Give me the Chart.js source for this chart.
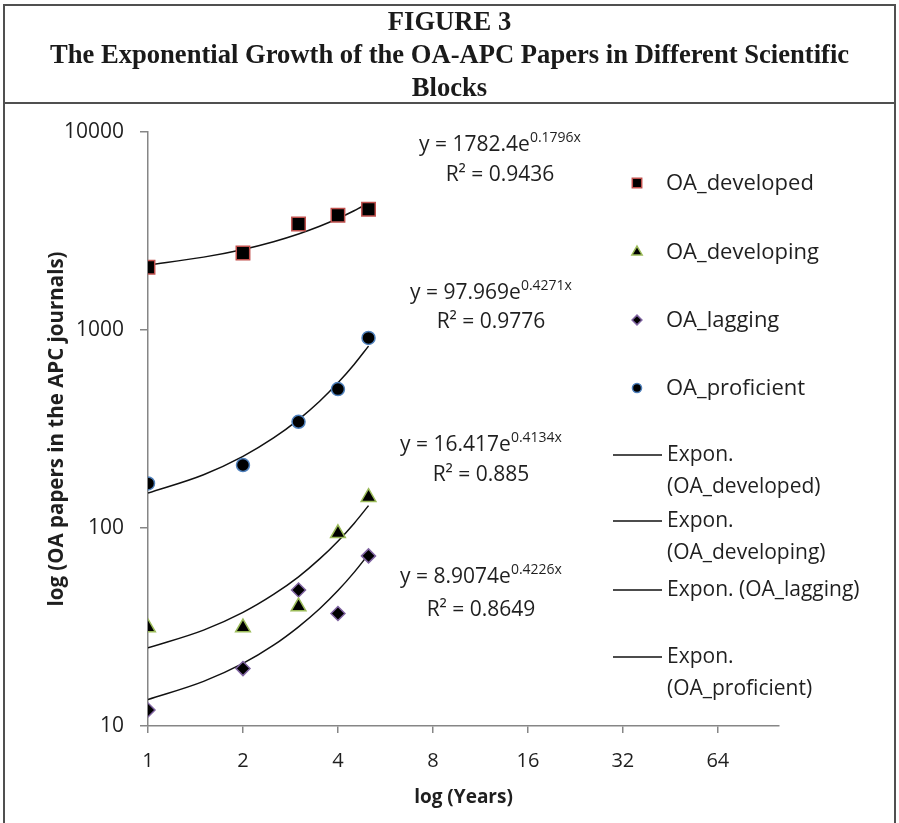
<!DOCTYPE html>
<html>
<head>
<meta charset="utf-8">
<script src="https://cdn.jsdelivr.net/npm/chart.js@4/dist/chart.umd.min.js"></script>
<style>
    html, body { margin: 0; padding: 0; background: #fff; }
    #page { position: relative; width: 899px; height: 823px; overflow: hidden; }
    #chart-wrap { position: absolute; left: 0; top: 0; width: 899px; height: 823px; }
    #frame { position: absolute; left: 3px; top: 4px; width: 893px; height: 840px; border: 2px solid #505050; box-sizing: border-box; pointer-events: none; }
    #title-rule { position: absolute; left: 3px; top: 102px; width: 893px; height: 0; border-top: 2px solid #505050; }
    .title-line { position: absolute; left: 0; width: 899px; text-align: center; font-family: "Liberation Serif", "Times New Roman", serif; font-weight: bold; font-size: 28px; line-height: 33px; color: #1a1a1a; transform: scaleX(0.95); white-space: nowrap; }
</style>
</head>
<body>
<div id="page">
    <div id="chart-wrap"><canvas id="growth-chart"></canvas></div>
    <div id="frame"></div>
    <div id="title-rule"></div>
    <div class="title-line" style="top:4px">FIGURE 3</div>
    <div class="title-line" style="top:37px">The Exponential Growth of the OA-APC Papers in Different Scientific</div>
    <div class="title-line" style="top:70px">Blocks</div>
</div>
<script>
// observed values (years 1..5)
const years = [1, 2, 3, 4, 5];
const developed = [2073, 2449, 3433, 3802, 4074];
const developing = [31.4, 31.4, 40.1, 94, 143];
const lagging = [12.05, 19.5, 48.6, 37, 72.3];
const proficient = [168, 208, 344, 503, 912];

// exponential trendlines
const trendYears = [1, 1.5, 2, 2.5, 3, 3.5, 4, 4.5, 5];
const developedTrend = [2133, 2334, 2553, 2793, 3055, 3342, 3656, 4000, 4375];
const developingTrend = [24.8, 30.5, 37.5, 46.2, 56.7, 69.8, 85.8, 105.5, 129.7];
const laggingTrend = [13.6, 16.8, 20.7, 25.6, 31.7, 39.1, 48.3, 59.7, 73.7];
const proficientTrend = [150.2, 185.9, 230.2, 285.0, 352.8, 436.8, 540.8, 669.6, 829.0];

// axis ticks
const xTicks = [1, 2, 4, 8, 16, 32, 64];
const yTicks = [10, 100, 1000, 10000];

const seriesNames = ['OA_developed', 'OA_developing', 'OA_lagging', 'OA_proficient'];
const trendNames = ['Expon. (OA_developed)', 'Expon. (OA_developing)', 'Expon. (OA_lagging)', 'Expon. (OA_proficient)'];
const equations = [
    ['y = 1782.4e', '0.1796x', 'R\u00B2 = 0.9436'],
    ['y = 97.969e', '0.4271x', 'R\u00B2 = 0.9776'],
    ['y = 16.417e', '0.4134x', 'R\u00B2 = 0.885'],
    ['y = 8.9074e', '0.4226x', 'R\u00B2 = 0.8649']
];

const FONT = '"Open Sans", "Liberation Sans", sans-serif';
const AXIS_GREY = '#868686';

const markerStyles = [
    { pointStyle: 'rect', radius: 9.5, border: '#c0504d' },
    { pointStyle: 'triangle', radius: 8.5, border: '#9bbb59' },
    { pointStyle: 'rectRot', radius: 7, border: '#8064a2' },
    { pointStyle: 'circle', radius: 6.5, border: '#4f81bd' }
];

function toPoints(xs, ys) {
    return xs.map((x, i) => ({ x: x, y: ys[i] }));
}

const pointSets = [developed, developing, lagging, proficient];
const trendSets = [developedTrend, developingTrend, laggingTrend, proficientTrend];

const datasets = [];
trendSets.forEach((set, i) => {
    datasets.push({
        label: trendNames[i],
        data: toPoints(trendYears, set),
        showLine: true,
        borderColor: '#111',
        borderWidth: 1.5,
        pointRadius: 0,
        cubicInterpolationMode: 'monotone',
        order: 2
    });
});
pointSets.forEach((set, i) => {
    const m = markerStyles[i];
    datasets.push({
        label: seriesNames[i],
        data: toPoints(years, set),
        showLine: false,
        pointStyle: m.pointStyle,
        pointRadius: m.radius,
        pointBackgroundColor: '#000',
        pointBorderColor: m.border,
        pointBorderWidth: 1.5,
        order: 0
    });
});

// legend + trendline equations drawn on top of the chart
const annotationPlugin = {
    id: 'annotations',
    afterDraw(chart) {
        const ctx = chart.ctx;
        ctx.save();
        ctx.fillStyle = '#1f1f1f';
        ctx.textBaseline = 'middle';

        // equations
        const eqPos = [[500, 145, 175], [491, 293, 322], [481, 445, 475], [481, 577, 610]];
        equations.forEach((eq, i) => {
            const [cx, y1, y2] = eqPos[i];
            ctx.font = '21px ' + FONT;
            const wBase = ctx.measureText(eq[0]).width;
            ctx.font = '14px ' + FONT;
            const wSup = ctx.measureText(eq[1]).width;
            const x0 = cx - (wBase + wSup) / 2;
            ctx.textAlign = 'left';
            ctx.font = '21px ' + FONT;
            ctx.fillText(eq[0], x0, y1);
            ctx.font = '14px ' + FONT;
            ctx.fillText(eq[1], x0 + wBase, y1 - 7);
            ctx.font = '21px ' + FONT;
            ctx.textAlign = 'center';
            ctx.fillText(eq[2], cx, y2);
        });

        // marker legend
        ctx.textAlign = 'left';
        ctx.font = '22px ' + FONT;
        const markerRows = [183, 252, 320, 388];
        markerRows.forEach((y, i) => {
            const m = markerStyles[i];
            ctx.fillStyle = '#000';
            ctx.strokeStyle = m.border;
            ctx.lineWidth = 1.5;
            Chart.helpers.drawPoint(ctx, { pointStyle: m.pointStyle, radius: m.radius * 0.7, borderWidth: 1.5, rotation: 0 }, 637, y);
            ctx.fillStyle = '#1f1f1f';
            ctx.fillText(seriesNames[i], 666, y + 1);
        });

        // trendline legend
        const trendRows = [
            [455, ['Expon.', '(OA_developed)']],
            [521, ['Expon.', '(OA_developing)']],
            [590, ['Expon. (OA_lagging)']],
            [657, ['Expon.', '(OA_proficient)']]
        ];
        ctx.font = '21px ' + FONT;
        trendRows.forEach(([y, lines]) => {
            ctx.strokeStyle = '#111';
            ctx.lineWidth = 1.5;
            ctx.beginPath();
            ctx.moveTo(613, y);
            ctx.lineTo(662, y);
            ctx.stroke();
            lines.forEach((t, k) => {
                ctx.fillText(t, 667, y + k * 32);
            });
        });
        ctx.restore();
    }
};

const chart = new Chart(document.getElementById('growth-chart'), {
    type: 'scatter',
    data: { datasets: datasets },
    plugins: [annotationPlugin],
    options: {
        responsive: true,
        maintainAspectRatio: false,
        animation: false,
        devicePixelRatio: 1,
        layout: { padding: { top: 132, right: 120, left: 0, bottom: 0 } },
        plugins: {
            legend: { display: false },
            tooltip: { enabled: false }
        },
        scales: {
            x: {
                type: 'logarithmic',
                min: 1,
                max: 100,
                afterBuildTicks: (axis) => { axis.ticks = xTicks.map(v => ({ value: v })); },
                afterFit: (axis) => { axis.height = 97; },
                ticks: {
                    autoSkip: false,
                    maxRotation: 0,
                    padding: 16,
                    color: '#1f1f1f',
                    font: { family: FONT, size: 20 },
                    callback: (v) => String(v)
                },
                grid: { drawOnChartArea: false, drawTicks: true, tickLength: 7, color: AXIS_GREY, lineWidth: 1.5 },
                border: { display: true, color: AXIS_GREY, width: 1.5 },
                title: {
                    display: true,
                    text: 'log (Years)',
                    color: '#1f1f1f',
                    font: { family: FONT, size: 19, weight: 'bold' },
                    padding: { top: 0, bottom: 14 }
                }
            },
            y: {
                type: 'logarithmic',
                min: 10,
                max: 10000,
                afterBuildTicks: (axis) => { axis.ticks = yTicks.map(v => ({ value: v })); },
                afterFit: (axis) => { axis.width = 148; },
                ticks: {
                    autoSkip: false,
                    padding: 16,
                    color: '#1f1f1f',
                    font: { family: FONT, size: 21 },
                    callback: (v) => String(v)
                },
                grid: { drawOnChartArea: false, drawTicks: true, tickLength: 8, color: AXIS_GREY, lineWidth: 1.5 },
                border: { display: true, color: AXIS_GREY, width: 1.5 },
                title: {
                    display: true,
                    text: 'log (OA papers in the APC journals)',
                    color: '#1f1f1f',
                    font: { family: FONT, size: 20.5, weight: 'bold' },
                    padding: { top: 45, bottom: 0 }
                }
            }
        }
    }
});
</script>
</body>
</html>
